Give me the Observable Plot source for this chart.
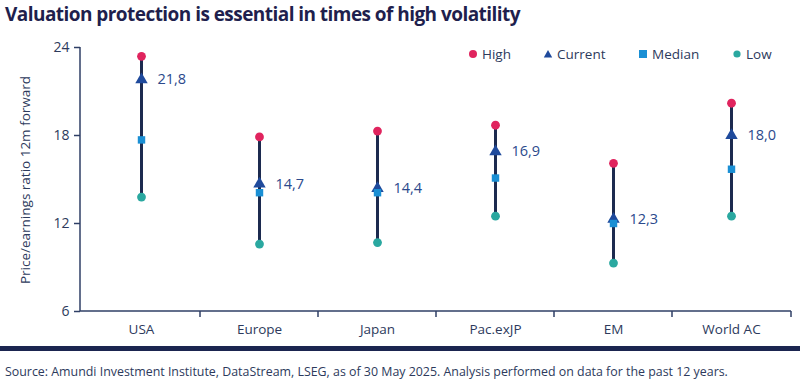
<!DOCTYPE html>
<html><head><meta charset="utf-8">
<script src="https://cdn.jsdelivr.net/npm/d3@7"></script>
<script src="https://cdn.jsdelivr.net/npm/@observablehq/plot@0.6"></script>
<style>
body{margin:0;width:800px;height:383px;position:relative;background:#fff;font-family:"Open Sans",sans-serif;overflow:hidden}
#title{position:absolute;left:5px;top:1px;font-weight:700;font-size:19px;color:#1f1f4d;letter-spacing:-0.55px;white-space:nowrap}
#chart{position:absolute;left:0;top:30px}
#ylab{position:absolute;left:25px;top:180px;transform:translate(-50%,-50%) rotate(-90deg);font-size:13.5px;color:#2d3a5c;white-space:nowrap}
.leg{position:absolute;top:45px;font-size:13.5px;color:#2d3a5c;display:flex;align-items:center;white-space:nowrap}
.leg svg{margin-right:4px}
#rule{position:absolute;left:0;top:346px;width:800px;height:5px;background:#1b2550}
#source{position:absolute;left:5px;top:363px;font-size:12.4px;color:#2d3a5c;white-space:nowrap}
</style>
</head><body>
<div id="title">Valuation protection is essential in times of high volatility</div>
<div id="ylab">Price/earnings ratio 12m forward</div>
<div id="chart"></div>
<div id="legend"></div>
<div id="rule"></div>
<div id="source">Source: Amundi Investment Institute, DataStream, LSEG, as of 30 May 2025. Analysis performed on data for the past 12 years.</div>
<script>
const regions = ["USA", "Europe", "Japan", "Pac.exJP", "EM", "World AC"];
const high    = [23.4, 17.9, 18.3, 18.7, 16.1, 20.2];
const current = [21.8, 14.7, 14.4, 16.9, 12.3, 18.0];
const median  = [17.7, 14.1, 14.1, 15.1, 12.0, 15.7];
const low     = [13.8, 10.6, 10.7, 12.5, 9.3, 12.5];
const yTicks  = [6, 12, 18, 24];
const seriesNames = ["High", "Current", "Median", "Low"];
const seriesColors = ["#e0245e", "#1f4a9c", "#1a8fd4", "#2aa8a0"];

const data = regions.map((r, i) => ({region: r, high: high[i], current: current[i], median: median[i], low: low[i]}));
const fmt = v => v.toFixed(1).replace(".", ",");
const axisColor = "#2f3f66";

function frameAndTicks(index, scales, values, dims) {
  const g = d3.create("svg:g").attr("stroke", axisColor).attr("stroke-width", 1.5);
  const x = scales.x;
  const left = dims.marginLeft, right = dims.width - dims.marginRight, bottom = dims.height - dims.marginBottom, top = dims.marginTop;
  g.append("line").attr("x1", left).attr("x2", left).attr("y1", top).attr("y2", bottom);
  g.append("line").attr("x1", left).attr("x2", right).attr("y1", bottom).attr("y2", bottom);
  const xs = regions.slice(1).map(r => x(r)).concat([right]).filter(v => Number.isFinite(v));
  xs.forEach(xr => {
    g.append("line").attr("x1", xr).attr("x2", xr).attr("y1", bottom).attr("y2", bottom + 6);
  });
  return g.node();
}

const plot = Plot.plot({
  width: 800, height: 316,
  marginLeft: 80, marginRight: 9, marginTop: 17, marginBottom: 35,
  style: {fontFamily: "Open Sans, sans-serif", fontSize: "13.5px", color: "#2d3a5c", background: "transparent"},
  x: {type: "band", domain: regions, padding: 0},
  y: {domain: [6, 24]},
  marks: [
    Plot.axisY({ticks: yTicks, tickSize: 6, tickPadding: 5, label: null, stroke: axisColor, strokeWidth: 1.5, fontSize: 14}),
    Plot.axisX({tickSize: 0, tickPadding: 13, label: null, fontSize: 13.5}),
    frameAndTicks,
    Plot.ruleX(data, {x: "region", y1: "low", y2: "high", stroke: "#1c2a4f", strokeWidth: 3}),
    Plot.dot(data, {x: "region", y: "high", symbol: "circle", r: 4.4, fill: seriesColors[0]}),
    Plot.dot(data, {x: "region", y: "low", symbol: "circle", r: 4.4, fill: seriesColors[3]}),
    Plot.dot(data, {x: "region", y: "current", symbol: "triangle", r: 4.6, fill: seriesColors[1]}),
    Plot.dot(data, {x: "region", y: "median", symbol: "square", r: 4.2, fill: seriesColors[2]}),
    Plot.text(data, {x: "region", y: "current", text: d => fmt(d.current), dx: 16, textAnchor: "start", fill: "#2b4a8c", fontSize: 14.5})
  ]
});
document.getElementById("chart").appendChild(plot);

// legend
const legPos = [468, 543, 638, 732];
const shapes = [
  c => `<circle cx="5" cy="5" r="4" fill="${c}"/>`,
  c => `<path d="M5 1 L9.2 8.5 L0.8 8.5 Z" fill="${c}"/>`,
  c => `<rect x="1" y="1" width="8" height="8" fill="${c}"/>`,
  c => `<circle cx="5" cy="5" r="3.6" fill="${c}"/>`
];
const legend = document.getElementById("legend");
seriesNames.forEach((n, i) => {
  const d = document.createElement("div");
  d.className = "leg";
  d.style.left = legPos[i] + "px";
  d.innerHTML = `<svg width="10" height="10">${shapes[i](seriesColors[i])}</svg><span>${n}</span>`;
  legend.appendChild(d);
});
</script>
</body></html>
